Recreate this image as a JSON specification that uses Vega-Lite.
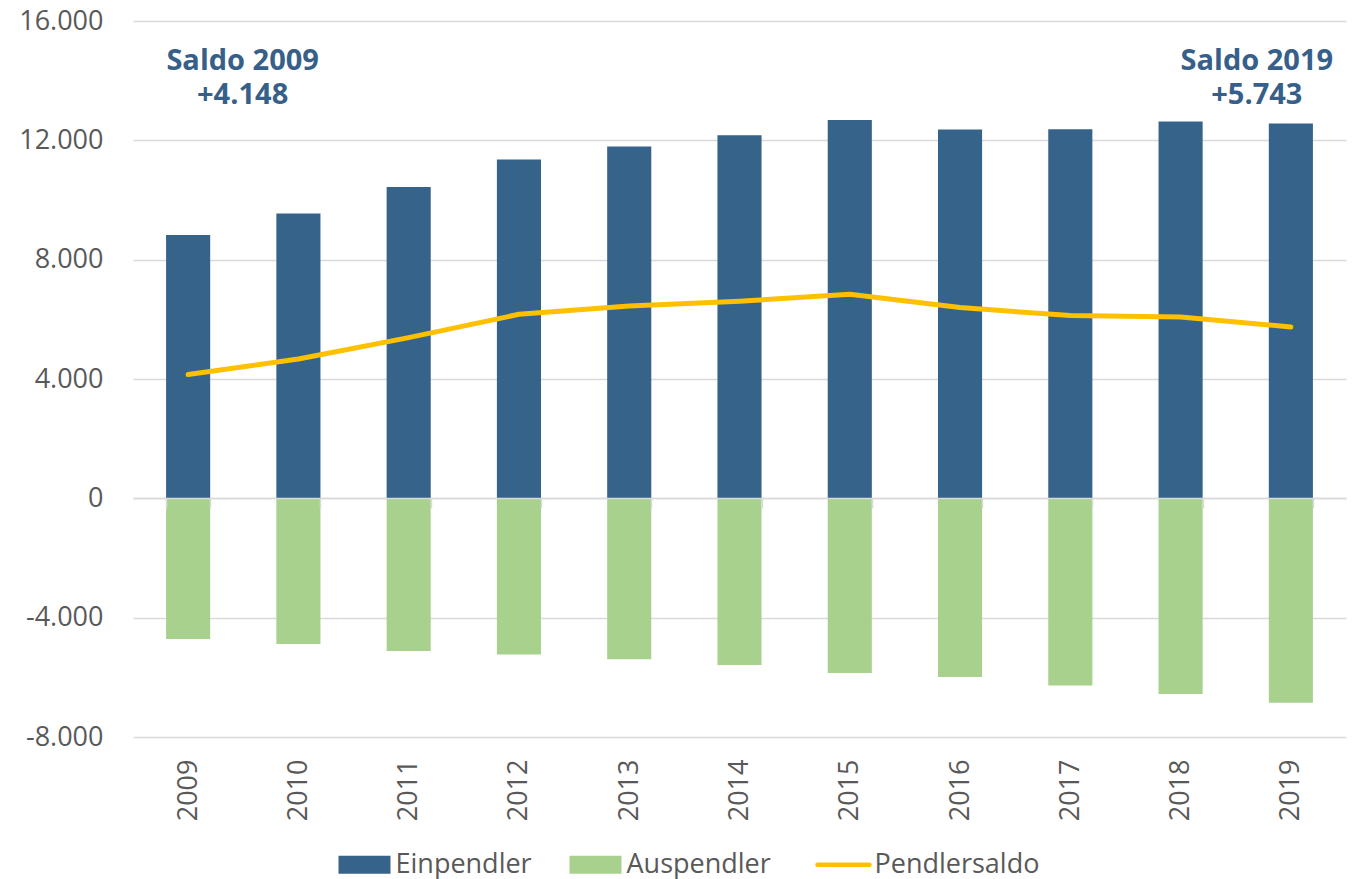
{
  "$schema": "https://vega.github.io/schema/vega-lite/v6.json",
  "width": 1213,
  "height": 716,
  "autosize": {"type": "none"},
  "padding": {"left": 133, "top": 21, "right": 11, "bottom": 142},
  "background": "white",
  "config": {
    "locale": {"number": {"decimal": ",", "thousands": ".", "grouping": [3], "currency": ["", " €"], "minus": "-"}},
    "view": {"stroke": null},
    "font": "Open Sans",
    "text": {"font": "Open Sans"}
  },
  "datasets": {
    "pendler": [
      {"year": "2009", "type": "Einpendler", "value": 8828},
      {"year": "2010", "type": "Einpendler", "value": 9546},
      {"year": "2011", "type": "Einpendler", "value": 10438},
      {"year": "2012", "type": "Einpendler", "value": 11356},
      {"year": "2013", "type": "Einpendler", "value": 11792},
      {"year": "2014", "type": "Einpendler", "value": 12171},
      {"year": "2015", "type": "Einpendler", "value": 12684},
      {"year": "2016", "type": "Einpendler", "value": 12362},
      {"year": "2017", "type": "Einpendler", "value": 12372},
      {"year": "2018", "type": "Einpendler", "value": 12630},
      {"year": "2019", "type": "Einpendler", "value": 12563},
      {"year": "2009", "type": "Auspendler", "value": -4717},
      {"year": "2010", "type": "Auspendler", "value": -4885},
      {"year": "2011", "type": "Auspendler", "value": -5120},
      {"year": "2012", "type": "Auspendler", "value": -5231},
      {"year": "2013", "type": "Auspendler", "value": -5398},
      {"year": "2014", "type": "Auspendler", "value": -5589},
      {"year": "2015", "type": "Auspendler", "value": -5857},
      {"year": "2016", "type": "Auspendler", "value": -5991},
      {"year": "2017", "type": "Auspendler", "value": -6270},
      {"year": "2018", "type": "Auspendler", "value": -6562},
      {"year": "2019", "type": "Auspendler", "value": -6850},
      {"year": "2009", "type": "Pendlersaldo", "value": 4148},
      {"year": "2010", "type": "Pendlersaldo", "value": 4671},
      {"year": "2011", "type": "Pendlersaldo", "value": 5388},
      {"year": "2012", "type": "Pendlersaldo", "value": 6169},
      {"year": "2013", "type": "Pendlersaldo", "value": 6448},
      {"year": "2014", "type": "Pendlersaldo", "value": 6605},
      {"year": "2015", "type": "Pendlersaldo", "value": 6840},
      {"year": "2016", "type": "Pendlersaldo", "value": 6394},
      {"year": "2017", "type": "Pendlersaldo", "value": 6126},
      {"year": "2018", "type": "Pendlersaldo", "value": 6080},
      {"year": "2019", "type": "Pendlersaldo", "value": 5743}
    ],
    "notes": [
      {"year": "2009", "label": "Saldo 2009\n+4.148"},
      {"year": "2019", "label": "Saldo 2019\n+5.743"}
    ]
  },
  "layer": [
    {
      "data": {"name": "pendler"},
      "transform": [{"filter": "datum.type !== 'Pendlersaldo'"}],
      "mark": {"type": "bar"},
      "encoding": {
        "x": {
          "field": "year", "type": "nominal", "sort": null,
          "scale": {"paddingInner": 0.6, "paddingOuter": 0.3},
          "axis": {
            "title": null, "labelAngle": -90, "labelFontSize": 27, "labelColor": "#595959", "labelFont": "Open Sans",
            "domainColor": "#d9d9d9", "domainWidth": 1.5, "tickColor": "#d9d9d9", "tickWidth": 1.5, "tickSize": 10,
            "tickBand": "extent", "offset": -239, "labelPadding": 251, "grid": false, "zindex": 1
          }
        },
        "y": {
          "field": "value", "type": "quantitative", "stack": null,
          "scale": {"domain": [-8000, 16000], "nice": false, "zero": false},
          "axis": {
            "title": null, "values": [-8000, -4000, 0, 4000, 8000, 12000, 16000], "format": ",d",
            "domain": false, "ticks": false, "tickSize": 0, "labelPadding": 30, "labelFontSize": 27,
            "labelColor": "#595959", "labelFont": "Open Sans", "grid": true, "gridColor": "#d9d9d9", "gridWidth": 1.5, "zindex": 0
          }
        },
        "color": {
          "field": "type", "type": "nominal",
          "scale": {"domain": ["Einpendler", "Auspendler", "Pendlersaldo"], "range": ["#366389", "#A9D18E", "#FFC000"]},
          "legend": {
            "orient": "none", "legendX": 218, "legendY": 830, "direction": "horizontal", "title": null,
            "labelFontSize": 27, "labelColor": "#595959", "labelFont": "Open Sans", "labelLimit": 0, "symbolSize": 2704,
            "labelOffset": 17.5, "columnPadding": 37, "padding": 0, "symbolStrokeWidth": 0,
            "encode": {
              "symbols": {
                "update": {
                  "shape": {"signal": "datum.value === 'Pendlersaldo' ? 'stroke' : 'M-1,-0.346H1V0.346H-1Z'"},
                  "fill": {"signal": "datum.value === 'Pendlersaldo' ? 'transparent' : scale('color', datum.value)"},
                  "stroke": {"signal": "scale('color', datum.value)"},
                  "strokeWidth": {"signal": "datum.value === 'Pendlersaldo' ? 4.5 : 0"},
                  "strokeCap": {"value": "round"},
                  "opacity": {"value": 1}
                }
              }
            }
          }
        }
      }
    },
    {
      "data": {"name": "pendler"},
      "transform": [{"filter": "datum.type === 'Pendlersaldo'"}],
      "mark": {"type": "line", "strokeWidth": 5, "strokeCap": "round", "strokeJoin": "round"},
      "encoding": {
        "x": {"field": "year", "type": "nominal", "sort": null},
        "y": {"field": "value", "type": "quantitative"},
        "color": {"field": "type", "type": "nominal"}
      }
    },
    {
      "data": {"name": "notes"},
      "transform": [{"filter": "datum.year === '2009'"}],
      "mark": {"type": "text", "dx": 54.5, "fontWeight": "bold", "fontSize": 29, "lineHeight": 34, "lineBreak": "\n", "color": "#366089", "baseline": "middle", "align": "center"},
      "encoding": {
        "x": {"field": "year", "type": "nominal", "sort": null},
        "y": {"datum": 14660},
        "text": {"field": "label"}
      }
    },
    {
      "data": {"name": "notes"},
      "transform": [{"filter": "datum.year === '2019'"}],
      "mark": {"type": "text", "dx": -34, "fontWeight": "bold", "fontSize": 29, "lineHeight": 34, "lineBreak": "\n", "color": "#366089", "baseline": "middle", "align": "center"},
      "encoding": {
        "x": {"field": "year", "type": "nominal", "sort": null},
        "y": {"datum": 14660},
        "text": {"field": "label"}
      }
    }
  ]
}
